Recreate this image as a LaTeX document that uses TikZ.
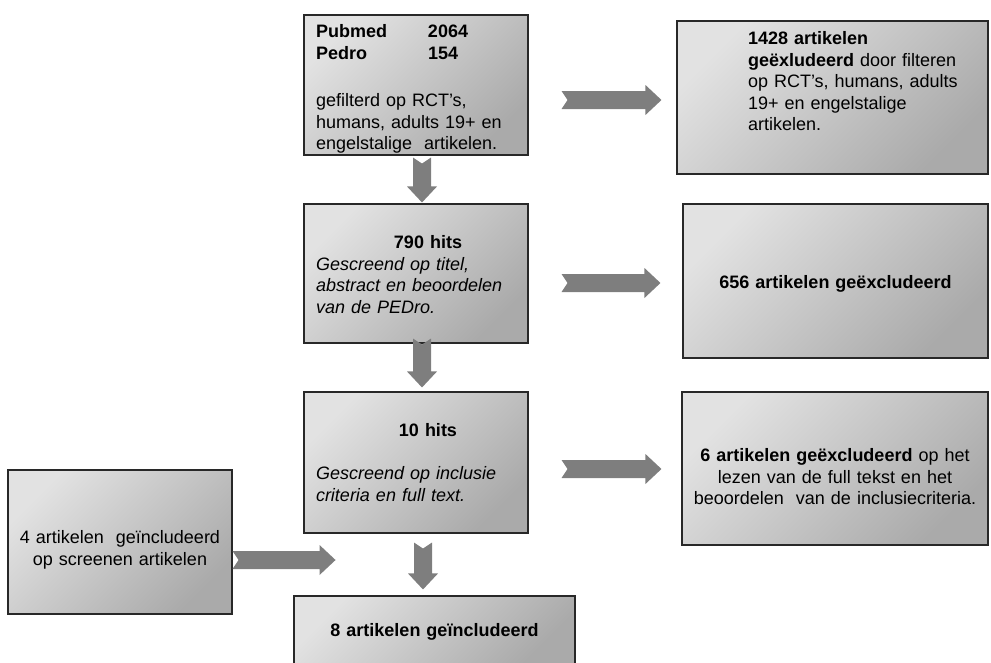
\documentclass[tikz,border=0pt]{standalone}
\usepackage{fontspec}
\setmainfont{Liberation Sans}
\usetikzlibrary{calc}

\definecolor{boxlight}{RGB}{226,226,226}
\definecolor{boxdark}{RGB}{170,170,170}
\definecolor{boxline}{RGB}{40,40,40}
\definecolor{arrowgray}{RGB}{126,126,126}

\tikzset{
	flowbox/.style={draw=boxline, line width=1.1pt, top color=boxlight, bottom color=boxdark,
		shading angle=45, inner sep=0pt, font=\fontsize{18pt}{21.5pt}\selectfont},
	blockarrow/.style={fill=arrowgray, draw=none,
		to path={let \p1=(\tikztostart), \p2=(\tikztotarget),
			\n1={atan2(\y2-\y1,\x2-\x1)}, \n2={veclen(\x2-\x1,\y2-\y1)} in
			{[shift={(\p1)}, rotate=\n1]
				(0pt,9pt) -- (\n2-16pt,9pt) -- (\n2-16pt,15pt) -- (\n2,0pt)
				-- (\n2-16pt,-15pt) -- (\n2-16pt,-9pt) -- (0pt,-9pt) -- (6pt,0pt) -- cycle}}}
}

\begin{document}
\begin{tikzpicture}[x=1pt, y=-1pt]
	\useasboundingbox (0,0) rectangle (991,662);

	% middle column
	\node[flowbox, text width=224pt, text height=22.5pt, text depth=117.5pt, align=left] (src) at (416,85)
		{\leftskip=12pt \textbf{\makebox[112pt][l]{Pubmed}2064}\\
		\textbf{\makebox[112pt][l]{Pedro}154}\\[26pt]
		gefilterd op RCT's,\\ humans, adults 19+ en\\ engelstalige\ \ artikelen.\par};
	\node[flowbox, text width=224pt, text height=44.5pt, text depth=94.5pt, align=left] (hits790) at (416,273.5)
		{\centerline{\textbf{790 hits}}
		\leftskip=12pt \itshape Gescreend op titel,\\ abstract en beoordelen\\ van de PEDro.\par};
	\node[flowbox, text width=224pt, text height=44.5pt, text depth=96.5pt, align=left] (hits10) at (416,462.5)
		{\centerline{\textbf{10 hits}}\vspace{21.5pt}
		\leftskip=12pt \itshape Gescreend op inclusie\\ criteria en full text.\par};
	\node[flowbox, text width=281pt, text height=40.5pt, text depth=27.5pt, align=center] (final) at (434.5,630)
		{\textbf{8 artikelen geïncludeerd}};

	% excluded
	\node[flowbox, text width=311pt, text height=23.5pt, text depth=129.5pt, align=left] (excl1) at (832.5,97.5)
		{\leftskip=71pt \textbf{1428 artikelen}\\ \textbf{geëxludeerd} door filteren\\
		op RCT's, humans, adults\\ 19+ en engelstalige\\ artikelen.\par};
	\node[flowbox, text width=305pt, text height=84.5pt, text depth=69.5pt, align=center] (excl2) at (835.5,281)
		{\textbf{656 artikelen geëxcludeerd}};
	\node[flowbox, text width=306pt, text height=69.5pt, text depth=83.5pt, align=center] (excl3) at (835,468.5)
		{\textbf{6 artikelen geëxcludeerd} op het\\ lezen van de full tekst en het\\
		beoordelen\ \ van de inclusiecriteria.};

	% included afterwards
	\node[flowbox, text width=224pt, text height=73.5pt, text depth=70.5pt, align=center] (extra) at (120,542)
		{4 artikelen\ \ geïncludeerd\\ op screenen artikelen};

	% arrows
	\coordinate (out1) at ([xshift=33pt,yshift=-15pt]src.east);
	\coordinate (out2) at ([xshift=33pt,yshift=-9.5pt]hits790.east);
	\coordinate (out3) at ([xshift=33pt,yshift=-6.5pt]hits10.east);
	\coordinate (out4) at ([yshift=-18pt]extra.east);
	\draw[blockarrow] (out1) to ($(out1 -| excl1.west)+(-15,0)$);
	\draw[blockarrow] (out2) to ($(out2 -| excl2.west)+(-22,0)$);
	\draw[blockarrow] (out3) to ($(out3 -| excl3.west)+(-20,0)$);
	\draw[blockarrow] (out4) to ($(out4)+(103,0)$);

	\draw[blockarrow] ([xshift=6pt,yshift=-2pt]src.south) to ([xshift=6pt,yshift=1pt]hits790.north);
	\draw[blockarrow] ([xshift=6pt,yshift=5pt]hits790.south) to ([xshift=6pt,yshift=4pt]hits10.north);
	\draw[blockarrow] ([xshift=7pt,yshift=-9pt]hits10.south) to ([xshift=-11.5pt,yshift=6pt]final.north);
\end{tikzpicture}
\end{document}
